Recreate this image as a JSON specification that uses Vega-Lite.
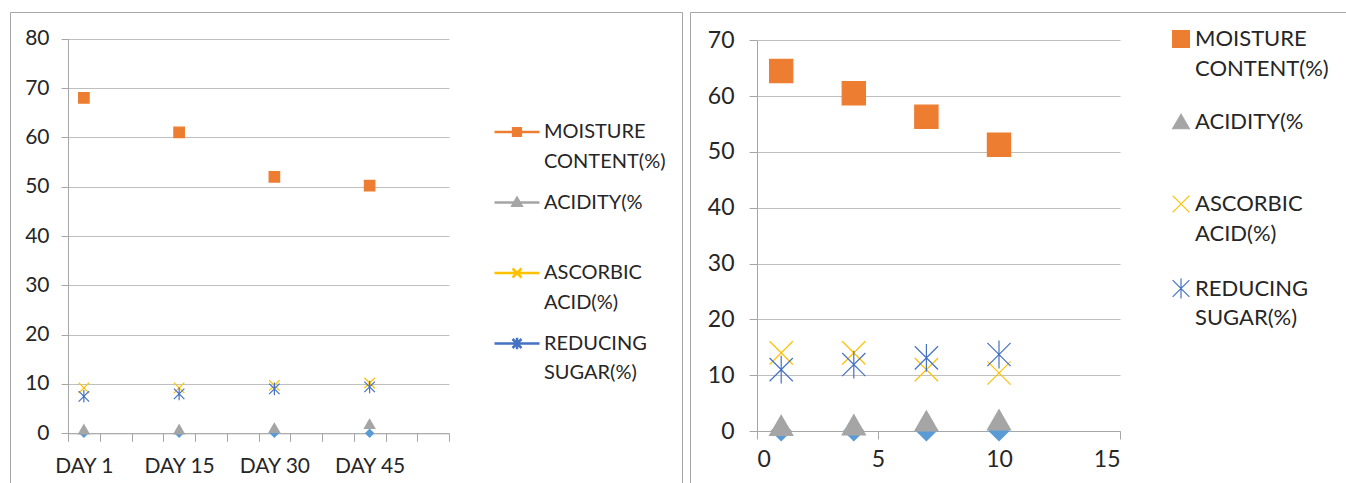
{
  "$schema": "https://vega.github.io/schema/vega-lite/v6.json",
  "padding": {"left": 9, "top": 11, "right": 1, "bottom": 0},
  "spacing": 6,
  "resolve": {
    "scale": {"shape": "independent", "fill": "independent", "stroke": "independent"},
    "legend": {"shape": "independent", "fill": "independent", "stroke": "independent"}
  },
  "config": {
    "font": "Lato",
    "view": {"stroke": "#a6a6a6", "strokeWidth": 1},
    "style": {"guide-label": {"lineHeight": 29.5}},
    "axis": {"labelFont": "Lato", "labelColor": "#262626", "domainColor": "#a6a6a6", "tickColor": "#a6a6a6", "gridColor": "#bfbfbf", "title": null},
    "legend": {"labelFont": "Lato", "labelColor": "#262626"}
  },
  "hconcat": [
    {
      "width": 672,
      "height": 471,
      "resolve": {
        "scale": {"shape": "independent", "fill": "independent", "stroke": "independent"},
        "legend": {"shape": "independent", "fill": "independent", "stroke": "independent"}
      },
      "data": {"values": [
        {"day": "DAY 1", "series": "MOISTURE CONTENT(%)", "value": 68},
        {"day": "DAY 15", "series": "MOISTURE CONTENT(%)", "value": 61},
        {"day": "DAY 30", "series": "MOISTURE CONTENT(%)", "value": 52},
        {"day": "DAY 45", "series": "MOISTURE CONTENT(%)", "value": 50.2},
        {"day": "DAY 1", "series": "ACIDITY(%", "value": 0.8},
        {"day": "DAY 15", "series": "ACIDITY(%", "value": 0.8},
        {"day": "DAY 30", "series": "ACIDITY(%", "value": 1.1},
        {"day": "DAY 45", "series": "ACIDITY(%", "value": 1.9},
        {"day": "DAY 1", "series": "ASCORBIC ACID(%)", "value": 9.2},
        {"day": "DAY 15", "series": "ASCORBIC ACID(%)", "value": 9.2},
        {"day": "DAY 30", "series": "ASCORBIC ACID(%)", "value": 9.7},
        {"day": "DAY 45", "series": "ASCORBIC ACID(%)", "value": 10.2},
        {"day": "DAY 1", "series": "REDUCING SUGAR(%)", "value": 7.5},
        {"day": "DAY 15", "series": "REDUCING SUGAR(%)", "value": 8.0},
        {"day": "DAY 30", "series": "REDUCING SUGAR(%)", "value": 9.0},
        {"day": "DAY 45", "series": "REDUCING SUGAR(%)", "value": 9.4}
      ]},
      "layer": [
        {
          "data": {"values": [
            {"day": "DAY 1", "value": 0},
            {"day": "DAY 15", "value": 0},
            {"day": "DAY 30", "value": 0},
            {"day": "DAY 45", "value": 0}
          ]},
          "mark": {"type": "point", "shape": "diamond", "filled": true, "opacity": 1, "size": 90, "color": "#5B9BD5"},
          "encoding": {
            "x": {"field": "day", "type": "nominal",
              "scale": {"domain": ["DAY 1", "d2", "d3", "DAY 15", "d5", "d6", "DAY 30", "d8", "d9", "DAY 45", "d11", "d12"], "range": [58, 439], "paddingInner": 0, "paddingOuter": 0},
              "axis": {"orient": "bottom", "offset": -49.7, "tickBand": "extent", "tickSize": 8, "labelPadding": 14, "labelAngle": 0, "labelFontSize": 21, "grid": false, "labelExpr": "indexof(datum.label, 'DAY') === 0 ? datum.label : ''"}},
            "y": {"field": "value", "type": "quantitative",
              "scale": {"domain": [0, 80], "range": [421.3, 26.7], "nice": false, "zero": false},
              "axis": {"orient": "left", "offset": -58, "values": [0, 10, 20, 30, 40, 50, 60, 70, 80], "tickSize": 7, "labelPadding": 12, "labelFontSize": 21, "grid": true}}
          }
        },
        {
          "mark": {"type": "point", "opacity": 1, "size": 110, "strokeWidth": 1.2},
          "encoding": {
            "x": {"field": "day", "type": "nominal"},
            "y": {"field": "value", "type": "quantitative"},
            "shape": {"field": "series", "type": "nominal", "legend": null,
              "scale": {"domain": ["MOISTURE CONTENT(%)", "ACIDITY(%", "ASCORBIC ACID(%)", "REDUCING SUGAR(%)"], "range": ["square", "triangle-up", "M-1,-1L1,1M-1,1L1,-1", "M-1,-1L1,1M-1,1L1,-1M0,-1.2V1.2"]}},
            "fill": {"field": "series", "type": "nominal", "legend": null,
              "scale": {"domain": ["MOISTURE CONTENT(%)", "ACIDITY(%", "ASCORBIC ACID(%)", "REDUCING SUGAR(%)"], "range": ["#ED7D31", "#A5A5A5", "transparent", "transparent"]}},
            "stroke": {"field": "series", "type": "nominal", "legend": null,
              "scale": {"domain": ["MOISTURE CONTENT(%)", "ACIDITY(%", "ASCORBIC ACID(%)", "REDUCING SUGAR(%)"], "range": ["#ED7D31", "#A5A5A5", "#FFC000", "#4472C4"]}}
          }
        },
        {
          "mark": {"type": "point", "opacity": 0, "size": 10},
          "encoding": {
            "x": {"field": "day", "type": "nominal"},
            "y": {"field": "value", "type": "quantitative"},
            "shape": {"field": "series", "type": "nominal",
              "scale": {"domain": ["MOISTURE CONTENT(%)", "ACIDITY(%", "ASCORBIC ACID(%)", "REDUCING SUGAR(%)"], "range": ["M-1,0H1M-0.17,-0.17H0.17V0.17H-0.17Z", "M-1,0H1M-0.2,0.14L0,-0.2L0.2,0.14Z", "M-1,0H1M-0.2,-0.2L0.2,0.2M-0.2,0.2L0.2,-0.2", "M-1,0H1M-0.2,-0.2L0.2,0.2M-0.2,0.2L0.2,-0.2M0,-0.26V0.26"]},
              "legend": {"title": null, "orient": "none", "legendX": 483, "legendY": 96, "padding": 0, "symbolSize": 2025, "symbolOpacity": 1, "symbolStrokeWidth": 2.5, "labelFontSize": 20, "labelOffset": 3, "labelBaseline": "middle", "rowPadding": 6.5, "labelLimit": 300,
                "labelExpr": "datum.label === 'ACIDITY(%' ? ['ACIDITY(%', ''] : split(datum.label, ' ')"}},
            "fill": {"field": "series", "type": "nominal",
              "scale": {"domain": ["MOISTURE CONTENT(%)", "ACIDITY(%", "ASCORBIC ACID(%)", "REDUCING SUGAR(%)"], "range": ["#ED7D31", "#A5A5A5", "transparent", "transparent"]},
              "legend": {"title": null, "orient": "none", "legendX": 483, "legendY": 96, "padding": 0, "symbolSize": 2025, "symbolOpacity": 1, "symbolStrokeWidth": 2.5, "labelFontSize": 20, "labelOffset": 3, "labelBaseline": "middle", "rowPadding": 6.5, "labelLimit": 300,
                "labelExpr": "datum.label === 'ACIDITY(%' ? ['ACIDITY(%', ''] : split(datum.label, ' ')"}},
            "stroke": {"field": "series", "type": "nominal",
              "scale": {"domain": ["MOISTURE CONTENT(%)", "ACIDITY(%", "ASCORBIC ACID(%)", "REDUCING SUGAR(%)"], "range": ["#ED7D31", "#A5A5A5", "#FFC000", "#4472C4"]},
              "legend": {"title": null, "orient": "none", "legendX": 483, "legendY": 96, "padding": 0, "symbolSize": 2025, "symbolOpacity": 1, "symbolStrokeWidth": 2.5, "labelFontSize": 20, "labelOffset": 3, "labelBaseline": "middle", "rowPadding": 6.5, "labelLimit": 300,
                "labelExpr": "datum.label === 'ACIDITY(%' ? ['ACIDITY(%', ''] : split(datum.label, ' ')"}}
          }
        }
      ]
    },
    {
      "width": 658,
      "height": 471,
      "data": {"values": [
        {"x": 1, "series": "MOISTURE CONTENT(%)", "value": 64.5},
        {"x": 4, "series": "MOISTURE CONTENT(%)", "value": 60.5},
        {"x": 7, "series": "MOISTURE CONTENT(%)", "value": 56.3},
        {"x": 10, "series": "MOISTURE CONTENT(%)", "value": 51.3},
        {"x": 1, "series": "ACIDITY(%", "value": 1.0},
        {"x": 4, "series": "ACIDITY(%", "value": 1.1},
        {"x": 7, "series": "ACIDITY(%", "value": 1.8},
        {"x": 10, "series": "ACIDITY(%", "value": 2.0},
        {"x": 1, "series": "ASCORBIC ACID(%)", "value": 14.0},
        {"x": 4, "series": "ASCORBIC ACID(%)", "value": 14.0},
        {"x": 7, "series": "ASCORBIC ACID(%)", "value": 11.0},
        {"x": 10, "series": "ASCORBIC ACID(%)", "value": 10.4},
        {"x": 1, "series": "REDUCING SUGAR(%)", "value": 11.0},
        {"x": 4, "series": "REDUCING SUGAR(%)", "value": 11.9},
        {"x": 7, "series": "REDUCING SUGAR(%)", "value": 13.1},
        {"x": 10, "series": "REDUCING SUGAR(%)", "value": 13.7}
      ]},
      "layer": [
        {
          "data": {"values": [
            {"x": 1, "value": 0},
            {"x": 4, "value": 0},
            {"x": 7, "value": 0},
            {"x": 10, "value": 0}
          ]},
          "mark": {"type": "point", "shape": "diamond", "filled": true, "opacity": 1, "size": 450, "color": "#5B9BD5"},
          "encoding": {
            "x": {"field": "x", "type": "quantitative"},
            "y": {"field": "value", "type": "quantitative"}
          }
        },
        {
          "mark": {"type": "point", "opacity": 1, "size": 540, "strokeWidth": 1.2},
          "encoding": {
            "x": {"field": "x", "type": "quantitative",
              "scale": {"domain": [0, 15], "range": [67, 430], "nice": false, "zero": false},
              "axis": {"orient": "bottom", "offset": -52, "values": [0, 5, 10, 15], "tickSize": 8, "labelPadding": 9, "labelFontSize": 23, "grid": false}},
            "y": {"field": "value", "type": "quantitative",
              "scale": {"domain": [0, 70], "range": [419, 28.3], "nice": false, "zero": false},
              "axis": {"orient": "left", "offset": -67, "values": [0, 10, 20, 30, 40, 50, 60, 70], "tickSize": 8, "labelPadding": 15, "labelFontSize": 23, "grid": true}},
            "shape": {"field": "series", "type": "nominal",
              "scale": {"domain": ["MOISTURE CONTENT(%)", "ACIDITY(%", "ASCORBIC ACID(%)", "REDUCING SUGAR(%)"], "range": ["square", "triangle-up", "M-1,-1L1,1M-1,1L1,-1", "M-1,-1L1,1M-1,1L1,-1M0,-1.2V1.2"]},
              "legend": {"title": null, "orient": "none", "legendX": 480, "legendY": 16, "padding": 0, "symbolSize": 280, "symbolOpacity": 1, "symbolStrokeWidth": 1.2, "labelFontSize": 22, "labelOffset": 3, "labelBaseline": "middle", "rowPadding": 30.5, "labelLimit": 300,
                "labelExpr": "datum.label === 'ACIDITY(%' ? ['ACIDITY(%', ''] : split(datum.label, ' ')"}},
            "fill": {"field": "series", "type": "nominal",
              "scale": {"domain": ["MOISTURE CONTENT(%)", "ACIDITY(%", "ASCORBIC ACID(%)", "REDUCING SUGAR(%)"], "range": ["#ED7D31", "#A5A5A5", "transparent", "transparent"]},
              "legend": {"title": null, "orient": "none", "legendX": 480, "legendY": 16, "padding": 0, "symbolSize": 280, "symbolOpacity": 1, "symbolStrokeWidth": 1.2, "labelFontSize": 22, "labelOffset": 3, "labelBaseline": "middle", "rowPadding": 30.5, "labelLimit": 300,
                "labelExpr": "datum.label === 'ACIDITY(%' ? ['ACIDITY(%', ''] : split(datum.label, ' ')"}},
            "stroke": {"field": "series", "type": "nominal",
              "scale": {"domain": ["MOISTURE CONTENT(%)", "ACIDITY(%", "ASCORBIC ACID(%)", "REDUCING SUGAR(%)"], "range": ["#ED7D31", "#A5A5A5", "#FFC000", "#4472C4"]},
              "legend": {"title": null, "orient": "none", "legendX": 480, "legendY": 16, "padding": 0, "symbolSize": 280, "symbolOpacity": 1, "symbolStrokeWidth": 1.2, "labelFontSize": 22, "labelOffset": 3, "labelBaseline": "middle", "rowPadding": 30.5, "labelLimit": 300,
                "labelExpr": "datum.label === 'ACIDITY(%' ? ['ACIDITY(%', ''] : split(datum.label, ' ')"}}
          }
        }
      ]
    }
  ]
}
